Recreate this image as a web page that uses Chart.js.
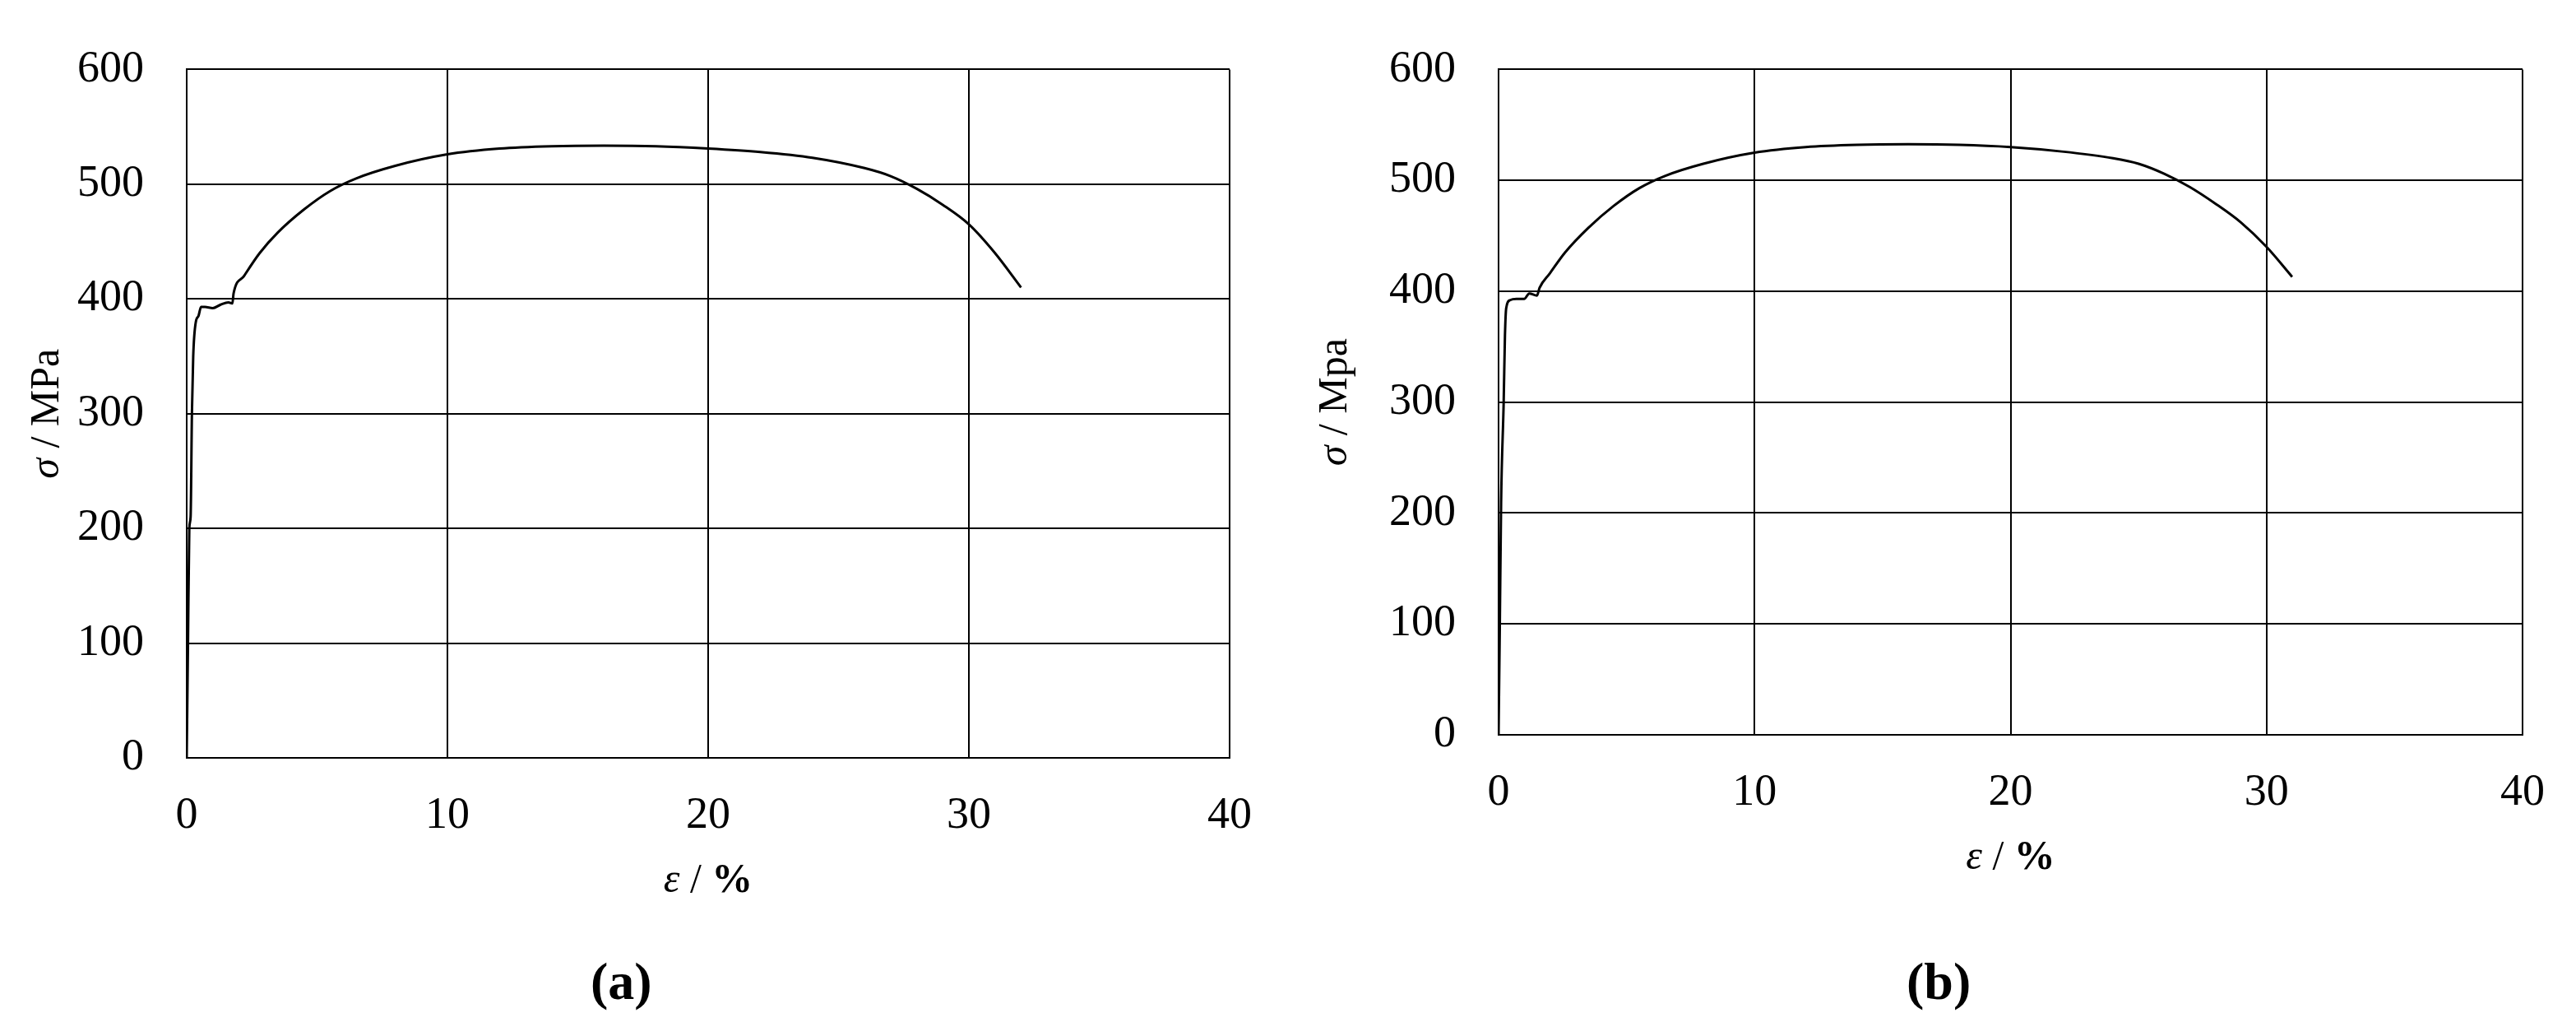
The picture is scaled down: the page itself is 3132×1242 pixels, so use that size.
<!DOCTYPE html>
<html>
<head>
<script src="https://cdn.jsdelivr.net/npm/chart.js@4"></script>
<style>
body { margin: 0; background: #fff; }
.wrap { position: absolute; top: 0; width: 1566px; height: 1242px; }
.cap { position: absolute; top: 1156px; font: bold 64px "Liberation Serif"; }
</style>
</head>
<body>
<div class="wrap" style="left:0"><canvas id="chartA"></canvas></div>
<div class="wrap" style="left:1566px"><canvas id="chartB"></canvas></div>
<div class="cap" style="left:718px">(<span>a</span>)</div>
<div class="cap" style="left:2318px">(<span>b</span>)</div>
<script>
var strainA = [0, 0.05, 0.1, 0.15, 0.2, 0.25, 0.35, 0.45, 0.55, 0.7, 1.0, 1.3, 1.6, 1.75, 1.8, 2.2, 2.8, 3.5, 4.5, 5.5, 6.5, 8, 10, 12, 14, 16, 18, 20, 22, 24, 26, 27, 28, 29, 30, 31, 32];
var stressA = [0, 100, 200, 210, 300, 350, 380, 385, 393, 393, 392, 395, 397, 396, 405, 420, 440, 458, 478, 494, 505, 516, 526, 531, 533, 533.5, 533, 531, 528, 523, 514, 507, 496, 482, 465, 440, 410];
var strainB = [0, 0.05, 0.1, 0.2, 0.25, 0.3, 0.45, 0.7, 1.0, 1.2, 1.5, 1.6, 2.0, 2.6, 3.5, 4.5, 5.5, 6.5, 8, 10, 12, 14, 16, 18, 20, 22, 24, 25, 26, 27, 28, 29, 30, 31];
var stressB = [0, 100, 210, 300, 360, 385, 392, 393, 393, 398, 396, 403, 416, 435, 457, 477, 493, 504, 515, 525, 530, 532, 532.5, 532, 530, 526, 520, 515, 506, 494, 479, 462, 440, 413];
var xTicks = [0, 10, 20, 30, 40];
var yTicks = [0, 100, 200, 300, 400, 500, 600];

function titles(unit) {
    return {
        id: "titles",
        afterDraw: function (chart) {
            var ctx = chart.ctx, a = chart.chartArea;
            ctx.save();
            ctx.fillStyle = "#000";
            ctx.textBaseline = "middle";
            ctx.textAlign = "left";
            // x title
            var cx = (a.left + a.right) / 2, cy = a.bottom + 150;
            ctx.font = "italic 50px 'Liberation Serif'";
            var p1 = "\u03b5", w1 = ctx.measureText(p1).width;
            ctx.font = "50px 'Liberation Serif'";
            var p2 = " / ", w2 = ctx.measureText(p2).width;
            ctx.font = "bold 50px 'Liberation Serif'";
            var p3 = "%", w3 = ctx.measureText(p3).width;
            var x0 = cx - (w1 + w2 + w3) / 2;
            ctx.font = "italic 50px 'Liberation Serif'";
            ctx.fillText(p1, x0, cy);
            ctx.font = "50px 'Liberation Serif'";
            ctx.fillText(p2, x0 + w1, cy);
            ctx.font = "bold 50px 'Liberation Serif'";
            ctx.fillText(p3, x0 + w1 + w2, cy);
            // y title
            ctx.translate(58, (a.top + a.bottom) / 2);
            ctx.rotate(-Math.PI / 2);
            ctx.font = "italic 50px 'Liberation Serif'";
            var s1 = "\u03c3", v1 = ctx.measureText(s1).width;
            ctx.font = "50px 'Liberation Serif'";
            var s2 = " / " + unit, v2 = ctx.measureText(s2).width;
            var y0 = -(v1 + v2) / 2;
            ctx.font = "italic 50px 'Liberation Serif'";
            ctx.fillText(s1, y0, 0);
            ctx.font = "50px 'Liberation Serif'";
            ctx.fillText(s2, y0 + v1, 0);
            ctx.restore();
        }
    };
}

function makeChart(id, xs, ys, unit, leftW, top, right, bottom) {
    var pts = xs.map(function (x, i) { return { x: x, y: ys[i] }; });
    return new Chart(id, {
        type: "scatter",
        data: {
            datasets: [{
                data: pts,
                showLine: true,
                borderColor: "#000",
                borderWidth: 3,
                pointRadius: 0,
                cubicInterpolationMode: "monotone"
            }]
        },
        options: {
            responsive: false,
            animation: false,
            devicePixelRatio: 1,
            layout: { padding: { top: top, right: right, bottom: 0, left: 0 } },
            plugins: { legend: { display: false }, tooltip: { enabled: false } },
            scales: {
                x: {
                    min: 0, max: 40,
                    afterBuildTicks: function (s) { s.ticks = xTicks.map(function (v) { return { value: v }; }); },
                    afterFit: function (s) { s.height = 1242 - bottom; },
                    ticks: { color: "#000", padding: 38, font: { family: "Liberation Serif", size: 54 } },
                    grid: { color: "#000", lineWidth: 2, drawTicks: false },
                    border: { color: "#000", width: 2 }
                },
                y: {
                    min: 0, max: 600,
                    afterBuildTicks: function (s) { s.ticks = yTicks.map(function (v) { return { value: v }; }); },
                    afterFit: function (s) { s.width = leftW; },
                    ticks: { color: "#000", padding: 52, font: { family: "Liberation Serif", size: 54 } },
                    grid: { color: "#000", lineWidth: 2, drawTicks: false },
                    border: { color: "#000", width: 2 }
                }
            }
        },
        plugins: [titles(unit)]
    });
}

var ca = document.getElementById("chartA"); ca.width = 1566; ca.height = 1242;
var cb = document.getElementById("chartB"); cb.width = 1566; cb.height = 1242;
makeChart("chartA", strainA, stressA, "MPa", 227, 12, 71, 921);
makeChart("chartB", strainB, stressB, "Mpa", 256, 12, 40, 893);
</script>
</body>
</html>
